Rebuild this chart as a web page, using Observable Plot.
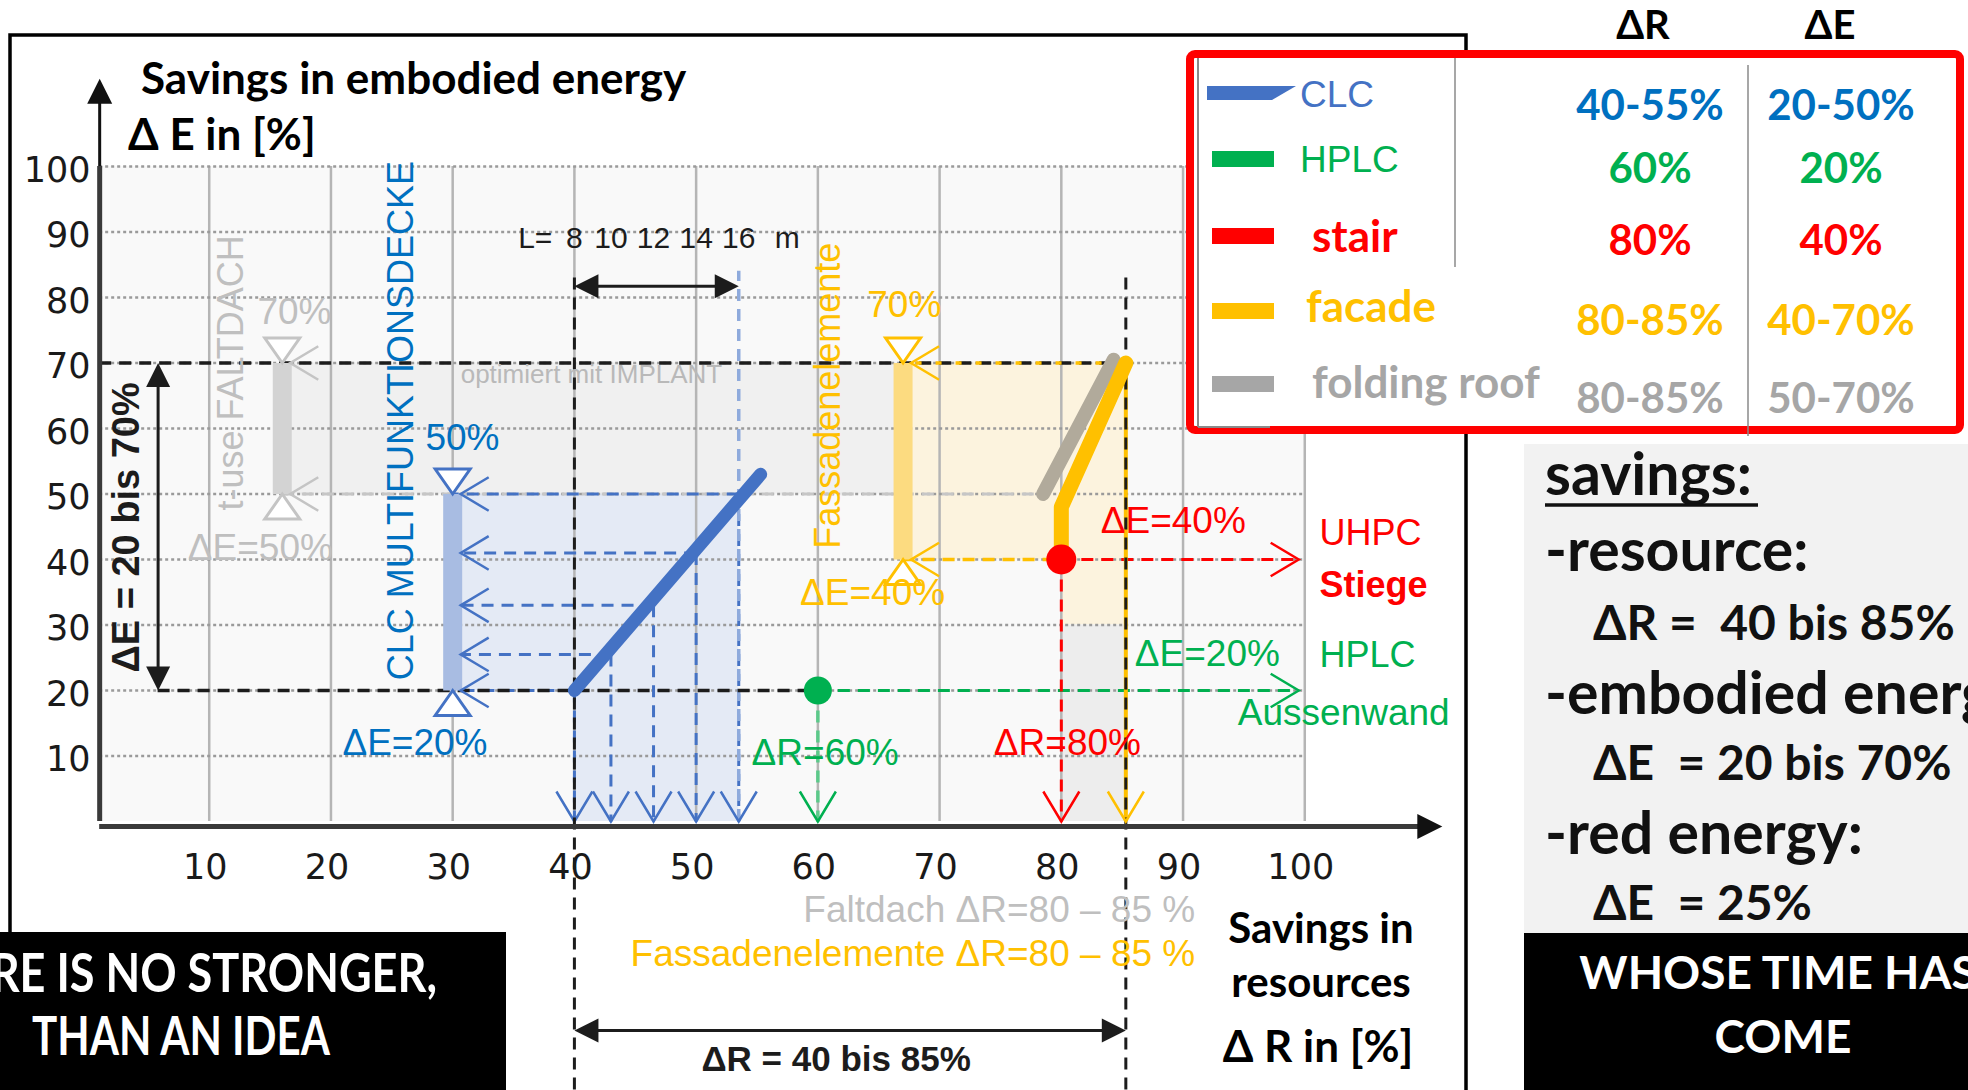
<!DOCTYPE html>
<html>
<head>
<meta charset="utf-8">
<script src="https://cdn.jsdelivr.net/npm/d3@7"></script>
<script src="https://cdn.jsdelivr.net/npm/@observablehq/plot@0.6"></script>
<style>
  html, body { margin: 0; padding: 0; background: #fff; }
  #wrap { position: relative; width: 1968px; height: 1090px; overflow: hidden; }
  #wrap > svg { position: absolute; left: 0; top: 0; }
</style>
</head>
<body>
<div id="wrap"></div>
<script>
// ---------- data (savings in %) ----------
const xTicks = [10, 20, 30, 40, 50, 60, 70, 80, 90, 100];
const yTicks = [10, 20, 30, 40, 50, 60, 70, 80, 90, 100];

// CLC multifunctional slab: span length L (m) -> resource / energy savings
const clcSpan = [8, 10, 12, 14, 16];
const clcR = [40, 43, 46.5, 50, 53.5];
const clcE = [20, 25.5, 33, 41, 50];
const clcLineR = [40, 55.3];
const clcLineE = [20, 53];

// vertical ΔE ranges: folding roof, CLC, facade
const rangeNames = ["folding roof", "CLC", "facade"];
const rangeR = [16, 30, 67];
const rangeLow = [50, 20, 40];
const rangeHigh = [70, 50, 70];

// facade element and folding roof curves
const facadeR = [80, 80, 85.3];
const facadeE = [40, 48, 70];
const roofR = [78.5, 84.3];
const roofE = [50, 70.5];

// single products: HPLC outer wall, UHPC stair
const pointNames = ["HPLC", "stair"];
const pointR = [60, 80];
const pointE = [20, 40];
const arrowEndR = 99.5;

// overall ranges
const spanR = [40, 85.3];
const spanE = [20, 70];

// legend table
const legendNames = ["CLC", "HPLC", "stair", "facade", "folding roof"];
const legendDR = ["40-55%", "60%", "80%", "80-85%", "80-85%"];
const legendDE = ["20-50%", "20%", "40%", "40-70%", "50-70%"];

// ---------- styles ----------
const blue = "#4472c4", blueText = "#0070c0", green = "#00b050", red = "#ff0000",
      yellow = "#ffc000", grayText = "#bfbfbf", black = "#1c1c1c";
const dash = "12,8";
const ARIAL = "Liberation Sans, Arial, sans-serif";
const VERD = "DejaVu Sans, Verdana, sans-serif";
const CAL = "Lato, Carlito, Calibri, sans-serif";

// symbols whose tip sits on the anchor point
const sym = (path) => ({draw(ctx, size) { path(ctx, Math.sqrt(size / Math.PI)); }});
const chevLeft = sym((c, r) => { c.moveTo(r, -0.6 * r); c.lineTo(0, 0); c.lineTo(r, 0.6 * r); });
const chevRight = sym((c, r) => { c.moveTo(-r, -0.6 * r); c.lineTo(0, 0); c.lineTo(-r, 0.6 * r); });
const chevDown = sym((c, r) => { c.moveTo(-0.6 * r, -r); c.lineTo(0, 0); c.lineTo(0.6 * r, -r); });
const triDown = sym((c, r) => { c.moveTo(0, 0); c.lineTo(-0.7 * r, -r); c.lineTo(0.7 * r, -r); c.closePath(); });
const triUp = sym((c, r) => { c.moveTo(0, 0); c.lineTo(-0.7 * r, r); c.lineTo(0.7 * r, r); c.closePath(); });
const headUp = sym((c, r) => { c.moveTo(0, 0); c.lineTo(-0.5 * r, r); c.lineTo(0.5 * r, r); c.closePath(); });
const headDown = sym((c, r) => { c.moveTo(0, 0); c.lineTo(-0.5 * r, -r); c.lineTo(0.5 * r, -r); c.closePath(); });
const headLeft = sym((c, r) => { c.moveTo(0, 0); c.lineTo(r, -0.5 * r); c.lineTo(r, 0.5 * r); c.closePath(); });
const headRight = sym((c, r) => { c.moveTo(0, 0); c.lineTo(-r, -0.5 * r); c.lineTo(-r, 0.5 * r); c.closePath(); });

// ---------- derived tables ----------
const clc = clcSpan.map((L, i) => ({L, r: clcR[i], e: clcE[i]}));
const clcLine = clcLineR.map((r, i) => ({r, e: clcLineE[i]}));
const facadeLine = facadeR.map((r, i) => ({r, e: facadeE[i]}));
const roofLine = roofR.map((r, i) => ({r, e: roofE[i]}));
const ranges = rangeNames.map((name, i) => ({name, r: rangeR[i], lo: rangeLow[i], hi: rangeHigh[i]}));
const points = pointNames.map((name, i) => ({name, r: pointR[i], e: pointE[i]}));
const [roofRange, clcRange, facadeRange] = ranges;
const [hplc, stair] = points;

// one vertical ΔE range: bar, end triangles and chevrons
function rangeMarks(d, barColor, lineColor, ends) {
  return [
    Plot.link([d], {x1: "r", x2: "r", y1: "lo", y2: "hi", stroke: barColor, strokeWidth: 19}),
    Plot.dot([d], {x: "r", y: "hi", symbol: triDown, r: 25, fill: "white", stroke: lineColor, strokeWidth: 3}),
    Plot.dot([d], {x: "r", y: "lo", symbol: triUp, r: 25, fill: "white", stroke: lineColor, strokeWidth: 3}),
    Plot.dot(ends, {x: d.r, y: (v) => v, symbol: chevLeft, r: 28, fill: "none", stroke: lineColor, strokeWidth: 2.5, dx: 8})
  ];
}

const txt = (data, fill, o = {}) =>
  Plot.text(data, {x: "r", y: "e", text: "t", fill, fontSize: 37, fontFamily: ARIAL, ...o});

const chart = Plot.plot({
  width: 1968,
  height: 1090,
  marginLeft: 87,
  marginRight: 542,
  marginTop: 166,
  marginBottom: 269,
  x: {domain: [0, 110]},
  y: {domain: [0, 100]},
  style: {fontFamily: ARIAL, overflow: "visible", background: "transparent"},
  marks: [
    // plot area and shaded zones
    Plot.rect([0], {x1: 1, x2: 100, y1: 0, y2: 100, fill: "#f9f9f9"}),
    Plot.rect([0], {x1: roofRange.r, x2: spanR[1], y1: roofRange.lo, y2: roofRange.hi, fill: "#f0f0f0"}),
    Plot.rect([0], {x1: clcRange.r, x2: clcR[4], y1: clcRange.lo, y2: clcRange.hi, fill: "#e4eaf5"}),
    Plot.rect([0], {x1: clcR[0], x2: clcR[4], y1: 0, y2: clcRange.lo, fill: "#e4eaf5"}),
    Plot.rect([0], {x1: facadeRange.r, x2: spanR[1], y1: facadeRange.lo, y2: facadeRange.hi, fill: "#fcf3de"}),
    Plot.rect([0], {x1: stair.r, x2: spanR[1], y1: 30, y2: stair.e, fill: "#fcf3de"}),
    Plot.rect([0], {x1: stair.r, x2: spanR[1], y1: 0, y2: 30, fill: "#ededed"}),

    // grid
    Plot.ruleX(xTicks, {y1: 0, y2: 100, stroke: "#b5b5b5", strokeWidth: 2.5}),
    Plot.ruleY(yTicks, {x1: 1, x2: 100, stroke: "#9a9a9a", strokeWidth: 2.5, strokeDasharray: "3,3"}),

    // dashed guide of the folding roof level
    Plot.ruleY([roofRange.lo], {x1: roofRange.r, x2: roofR[0], stroke: "#c6c6c6", strokeWidth: 3, strokeDasharray: dash}),

    // CLC: span lines down to ΔR, levels across to ΔE
    Plot.link(clc, {x1: "r", x2: "r", y1: "e", y2: 0, stroke: blue, strokeWidth: 3, strokeDasharray: dash}),
    Plot.ruleX([clcR[4]], {y1: 0, y2: 84, stroke: "#8eaadc", strokeWidth: 3.5, strokeDasharray: dash}),
    Plot.link(clc, {x1: "r", x2: clcRange.r, y1: "e", y2: "e", stroke: blue, strokeWidth: 3, strokeDasharray: dash}),
    Plot.dot(clc, {x: "r", y: 0, symbol: chevDown, r: 30, fill: "none", stroke: blue, strokeWidth: 2.5}),

    // HPLC and stair arrows
    Plot.link([hplc], {x1: "r", x2: arrowEndR, y1: "e", y2: "e", stroke: green, strokeWidth: 3, strokeDasharray: dash}),
    Plot.link([hplc], {x1: "r", x2: "r", y1: "e", y2: 0, stroke: "#5cc98a", strokeWidth: 3.5, strokeDasharray: dash}),
    Plot.link([stair], {x1: "r", x2: arrowEndR, y1: "e", y2: "e", stroke: red, strokeWidth: 3, strokeDasharray: dash}),
    Plot.link([stair], {x1: "r", x2: "r", y1: "e", y2: 0, stroke: red, strokeWidth: 3, strokeDasharray: dash}),
    Plot.dot([hplc], {x: arrowEndR, y: "e", symbol: chevRight, r: 28, fill: "none", stroke: green, strokeWidth: 2.5}),
    Plot.dot([stair], {x: arrowEndR, y: "e", symbol: chevRight, r: 28, fill: "none", stroke: red, strokeWidth: 2.5}),
    Plot.dot([hplc], {x: "r", y: 0, symbol: chevDown, r: 30, fill: "none", stroke: green, strokeWidth: 2.5}),
    Plot.dot([stair], {x: "r", y: 0, symbol: chevDown, r: 30, fill: "none", stroke: red, strokeWidth: 2.5}),

    // overall range guides
    Plot.ruleY([spanE[1]], {x1: 1, x2: spanR[1], stroke: black, strokeWidth: 3.5, strokeDasharray: dash}),
    Plot.ruleY([spanE[1]], {x1: facadeRange.r, x2: spanR[1], stroke: yellow, strokeWidth: 3.5, strokeDasharray: "6,14", strokeDashoffset: -13}),
    Plot.ruleY([spanE[0]], {x1: 5.8, x2: hplc.r, stroke: black, strokeWidth: 3.5, strokeDasharray: dash}),
    Plot.ruleY([facadeRange.lo], {x1: facadeRange.r, x2: stair.r, stroke: yellow, strokeWidth: 3.5, strokeDasharray: dash}),
    Plot.ruleX([spanR[1]], {y1: 0, y2: spanE[1], stroke: yellow, strokeWidth: 4}),
    Plot.ruleX(spanR, {y1: -41, y2: 84, stroke: black, strokeWidth: 3, strokeDasharray: dash}),
    Plot.dot([spanR[1]], {x: (d) => d, y: 0, symbol: chevDown, r: 30, fill: "none", stroke: yellow, strokeWidth: 2.5}),

    // vertical ΔE ranges
    ...rangeMarks(roofRange, "#d3d3d3", "#c4c4c4", [roofRange.lo, roofRange.hi]),
    ...rangeMarks(facadeRange, "#fcdb80", yellow, [facadeRange.lo, facadeRange.hi]),
    ...rangeMarks(clcRange, "#a8bce2", blue, clcE),

    // curves and points
    Plot.line(clcLine, {x: "r", y: "e", stroke: blue, strokeWidth: 13}),
    Plot.line(roofLine, {x: "r", y: "e", stroke: "#b1aa9b", strokeWidth: 14}),
    Plot.line(facadeLine, {x: "r", y: "e", stroke: yellow, strokeWidth: 15, strokeLinejoin: "round"}),
    Plot.dot([hplc], {x: "r", y: "e", r: 14, fill: green}),
    Plot.dot([stair], {x: "r", y: "e", r: 15, fill: red}),

    // range arrows: ΔE span, span length L, ΔR span
    Plot.ruleX([5.8], {y1: spanE[0] + 3, y2: spanE[1] - 3, stroke: black, strokeWidth: 3}),
    Plot.dot([spanE[1]], {x: 5.8, y: (d) => d, symbol: headUp, r: 24, fill: black}),
    Plot.dot([spanE[0]], {x: 5.8, y: (d) => d, symbol: headDown, r: 24, fill: black}),
    Plot.ruleY([81.7], {x1: clcR[0] + 1.5, x2: clcR[4] - 1.5, stroke: black, strokeWidth: 3}),
    Plot.dot([clcR[0]], {x: (d) => d, y: 81.7, symbol: headLeft, r: 24, fill: black}),
    Plot.dot([clcR[4]], {x: (d) => d, y: 81.7, symbol: headRight, r: 24, fill: black}),
    Plot.ruleY([0], {x1: spanR[0] + 1.5, x2: spanR[1] - 1.5, dy: 209, stroke: black, strokeWidth: 3}),
    Plot.dot([spanR[0]], {x: (d) => d, y: 0, dy: 209, symbol: headLeft, r: 24, fill: black}),
    Plot.dot([spanR[1]], {x: (d) => d, y: 0, dy: 209, symbol: headRight, r: 24, fill: black}),

    // axes
    Plot.ruleY([0], {x1: 1, x2: 109.5, dy: 5, stroke: "#3a3a3a", strokeWidth: 5}),
    Plot.dot([111.3], {x: (d) => d, y: 0, dy: 5, symbol: headRight, r: 25, fill: "#111"}),
    Plot.ruleX([1], {y1: 0, y2: 100, stroke: "#3a3a3a", strokeWidth: 5}),
    Plot.ruleX([1], {y1: 100, y2: 110, stroke: "#111", strokeWidth: 3}),
    Plot.dot([113.4], {x: 1, y: (d) => d, symbol: headUp, r: 25, fill: "#111"}),
    Plot.axisX(xTicks, {anchor: "bottom", tickSize: 0, tickPadding: 33, dx: -4, fontSize: 35, fontFamily: VERD, label: null, color: "#1a1a1a"}),
    Plot.axisY(yTicks, {anchor: "left", tickSize: 0, tickPadding: 0, dx: 3, dy: 4, fontSize: 35, fontFamily: VERD, label: null, color: "#1a1a1a"}),

    // span length labels
    Plot.text(clc, {x: "r", y: 89, text: (d) => String(d.L), fontSize: 30, fill: black}),
    Plot.text(["L="], {x: clcR[0], y: 89, text: (d) => d, dx: -22, textAnchor: "end", fontSize: 30, fill: black}),
    Plot.text(["m"], {x: clcR[4], y: 89, text: (d) => d, dx: 36, textAnchor: "start", fontSize: 30, fill: black}),

    // annotations
    txt([{t: "50%", r: 30.8, e: 58.5}, {t: "ΔE=20%", r: 26.9, e: 11.9}], blueText),
    txt([{t: "CLC MULTIFUNKTIONSDECKE", r: 25.8, e: 61.2}], blueText, {rotate: -90, fontSize: 36}),
    txt([{t: "70%", r: 17, e: 77.7}, {t: "ΔE=50%", r: 14.2, e: 41.7}], grayText),
    txt([{t: "t-use FALTDACH", r: 11.8, e: 68.5}], grayText, {rotate: -90, fontSize: 36}),
    txt([{t: "optimiert mit IMPLANT", r: 41.4, e: 68.2}], "#b9b9b9", {fontSize: 26}),
    txt([{t: "70%", r: 67.1, e: 78.8}, {t: "ΔE=40%", r: 64.5, e: 34.8}], yellow),
    txt([{t: "Fassadenelemente", r: 60.9, e: 65}], yellow, {rotate: -90, fontSize: 36}),
    txt([{t: "ΔE=40%", r: 89.2, e: 45.8}, {t: "ΔR=80%", r: 80.5, e: 11.9}], red),
    txt([{t: "UHPC", r: 101.2, e: 44}], red, {textAnchor: "start", fontSize: 36}),
    txt([{t: "Stiege", r: 101.2, e: 36}], red, {textAnchor: "start", fontSize: 36, fontWeight: "bold"}),
    txt([{t: "ΔE=20%", r: 92, e: 25.6}, {t: "ΔR=60%", r: 60.6, e: 10.4}], green),
    txt([{t: "HPLC", r: 101.2, e: 25.3}], green, {textAnchor: "start", fontSize: 36}),
    txt([{t: "Aussenwand", r: 94.5, e: 16.6}], green, {textAnchor: "start", fontSize: 37}),
    txt([{t: "ΔE = 20 bis 70%", r: 3.2, e: 44.9}], black, {rotate: -90, fontSize: 38, fontWeight: "bold"}),
    txt([{t: "Faltdach ΔR=80 – 85 %", r: 91, e: 0}], grayText, {textAnchor: "end", dy: 89}),
    txt([{t: "Fassadenelemente ΔR=80 – 85 %", r: 91, e: 0}], yellow, {textAnchor: "end", dy: 133}),
    txt([{t: "ΔR = 40 bis 85%", r: 61.5, e: 0}], black, {dy: 238, fontSize: 35, fontWeight: "bold"})
  ]
});

const wrap = document.getElementById("wrap");
wrap.appendChild(chart);

// ---------- frame, legend table, summary panel, quote ----------
const ov = d3.create("svg").attr("width", 1968).attr("height", 1090);
const put = (s, x, y, o) => {
  const t = ov.append("text").attr("x", x).attr("y", y).text(s)
    .attr("font-family", o.f || CAL).attr("font-size", o.s).attr("font-weight", o.w || "bold")
    .attr("fill", o.c || "#000").attr("text-anchor", o.a || "start").style("white-space", "pre");
  if (o.len) t.attr("textLength", o.len).attr("lengthAdjust", "spacingAndGlyphs");
  return t;
};
const line = (x1, y1, x2, y2, stroke, w) => ov.append("line")
  .attr("x1", x1).attr("y1", y1).attr("x2", x2).attr("y2", y2).attr("stroke", stroke).attr("stroke-width", w);

// outer frame
ov.append("path").attr("d", "M10,1090 V35 H1466 V1090").attr("fill", "none").attr("stroke", "#000").attr("stroke-width", 3.5);

// titles
put("Savings in embodied energy", 141, 94, {s: 44});
put("Δ E in [%]", 128, 150, {s: 44});
put("Savings in", 1321, 943, {s: 42, a: "middle"});
put("resources", 1321, 997, {s: 42, a: "middle"});
put("Δ R in [%]", 1318, 1062, {s: 44, a: "middle"});

// summary panel
ov.append("rect").attr("x", 1524).attr("y", 444).attr("width", 444).attr("height", 489).attr("fill", "#f2f2f2");
put("savings:", 1545, 495, {s: 59, c: "#111"});
line(1545, 505, 1758, 505, "#111", 3.5);
put("-resource:", 1545, 571, {s: 59, c: "#111"});
put("ΔR =  40 bis 85%", 1593, 640, {s: 48, c: "#111"});
put("-embodied energy:", 1545, 714, {s: 59, c: "#111"});
put("ΔE  = 20 bis 70%", 1593, 780, {s: 48, c: "#111"});
put("-red energy:", 1545, 854, {s: 59, c: "#111"});
put("ΔE  = 25%", 1593, 920, {s: 48, c: "#111"});

// legend table
ov.append("rect").attr("x", 1190).attr("y", 54).attr("width", 770).attr("height", 376)
  .attr("rx", 5).attr("fill", "white").attr("stroke", red).attr("stroke-width", 8);
line(1198, 58, 1198, 427, "#8a8a8a", 2);
line(1198, 427, 1270, 427, "#8a8a8a", 2);
line(1455, 58, 1455, 267, "#8a8a8a", 1.5);
line(1748, 65, 1748, 436, "#8a8a8a", 1.5);
put("ΔR", 1643, 39, {s: 40, a: "middle"});
put("ΔE", 1830, 39, {s: 40, a: "middle"});

const legendColor = [blue, green, red, yellow, "#a6a6a6"];
const valueColor = [blueText, green, red, yellow, "#a6a6a6"];
const rowLabelY = [107, 172, 252, 322, 398];
const rowValueY = [120, 183, 255, 335, 413];
const swatchY = [86, 151, 228, 303, 376];
legendNames.forEach((name, i) => {
  if (i === 0) {
    ov.append("path").attr("d", `M1207,${swatchY[i]} H1296 L1272,${swatchY[i] + 14} H1207 Z`).attr("fill", legendColor[i]);
  } else {
    ov.append("rect").attr("x", 1212).attr("y", swatchY[i]).attr("width", 62).attr("height", 16).attr("fill", legendColor[i]);
  }
  const plain = i < 2;
  put(name, plain ? 1300 : (i === 3 ? 1306 : 1312), rowLabelY[i],
      plain ? {f: ARIAL, s: 37, w: "normal", c: i === 0 ? blue : green} : {s: 44, c: legendColor[i]});
  put(legendDR[i], 1650, rowValueY[i], {s: 42, a: "middle", c: valueColor[i]});
  put(legendDE[i], 1841, rowValueY[i], {s: 42, a: "middle", c: valueColor[i]});
});

// quote boxes
ov.append("rect").attr("x", 0).attr("y", 932).attr("width", 506).attr("height", 158).attr("fill", "#000");
ov.append("rect").attr("x", 1524).attr("y", 933).attr("width", 444).attr("height", 157).attr("fill", "#000");
put("THERE IS NO STRONGER,", -97, 992, {s: 53, c: "#fff", len: 534});
put("THAN AN IDEA", 32, 1055, {s: 53, c: "#fff", len: 298});
put("WHOSE TIME HAS", 1778, 989, {s: 46, a: "middle", c: "#fff"});
put("COME", 1783, 1053, {s: 46, a: "middle", c: "#fff"});

wrap.appendChild(ov.node());
</script>
</body>
</html>
